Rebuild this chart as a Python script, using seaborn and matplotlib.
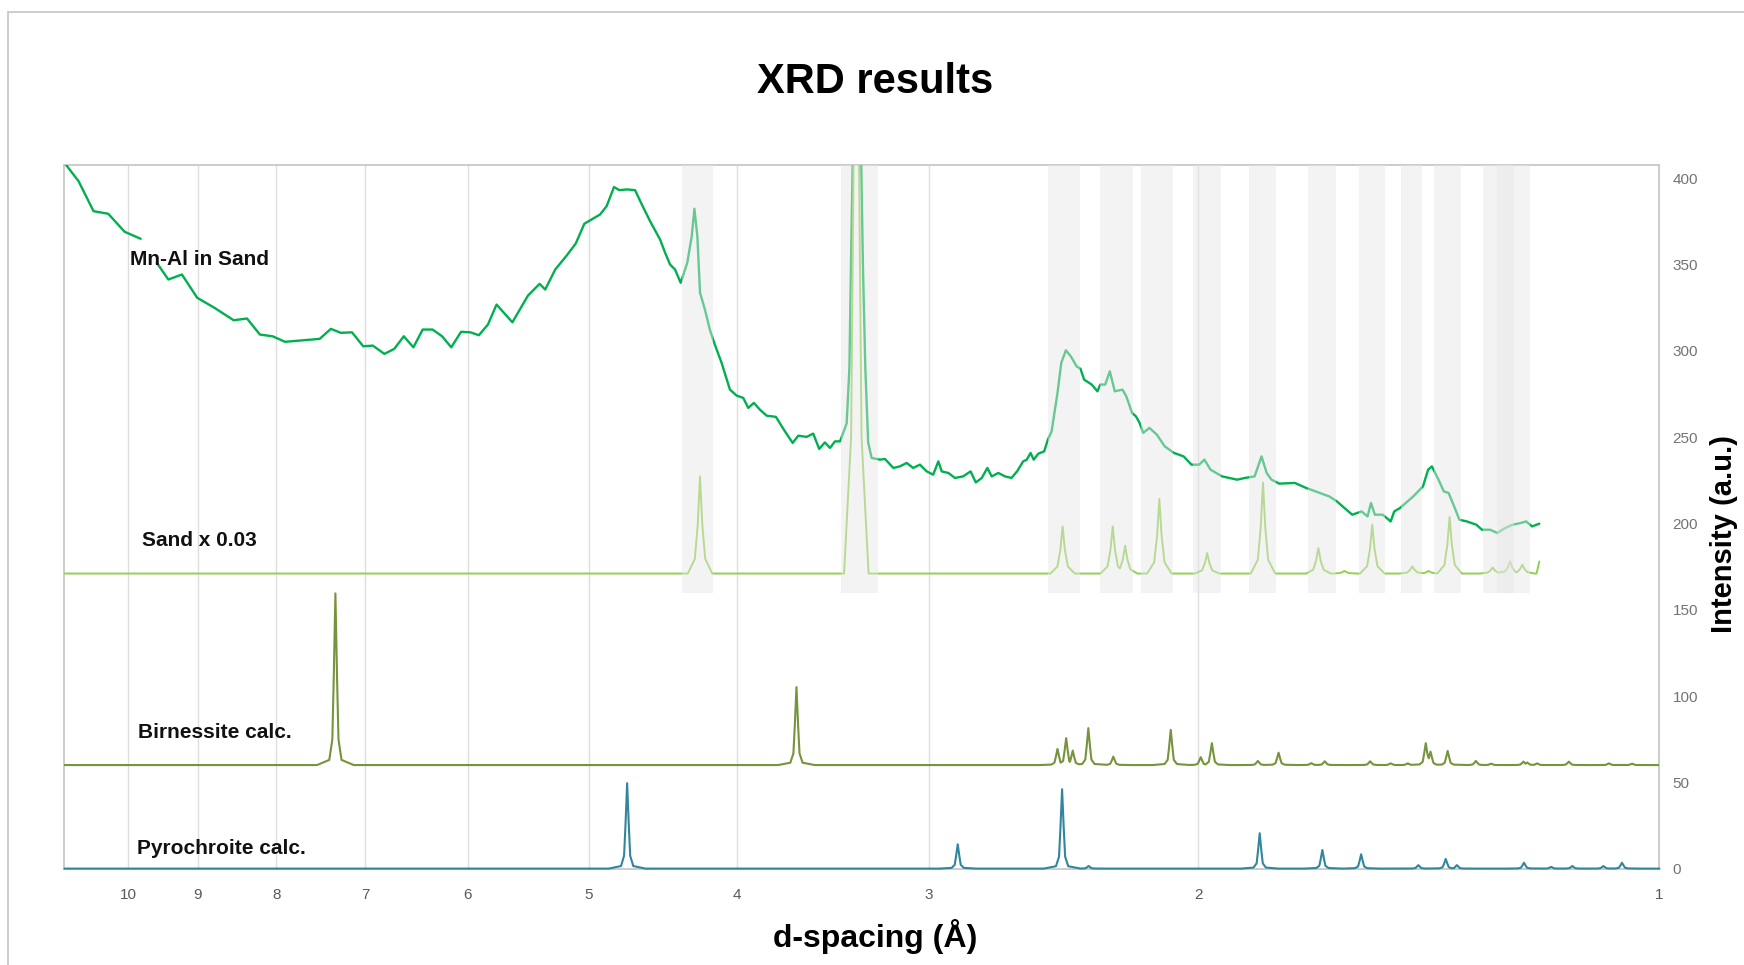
import numpy as np
import pandas as pd
import matplotlib
matplotlib.use("Agg")
import matplotlib.pyplot as plt
from matplotlib.patches import Rectangle
from matplotlib.ticker import FixedLocator, FixedFormatter, NullLocator
import seaborn as sns

# ---------------- measured pattern: Mn-Al in sand ----------------
# (d-spacing in Å, intensity in a.u.); the trace is broken in two pieces
MNAL_SEG1_D = [11.0, 10.77, 10.53, 10.30, 10.05, 9.81]
MNAL_SEG1_I = [409.0, 398.4, 381.0, 379.5, 369.1, 365.0]

MNAL_SEG2_D = [
    9.575, 9.41, 9.22, 9.01, 8.78, 8.53, 8.36, 8.20, 8.045, 7.895, 7.495, 7.37,
    7.26, 7.14, 7.02, 6.92, 6.80, 6.70, 6.605, 6.51, 6.42, 6.325, 6.235, 6.15,
    6.06, 5.975, 5.90, 5.82, 5.745, 5.61, 5.48, 5.385, 5.34, 5.26, 5.17, 5.10,
    5.035, 4.917, 4.869, 4.815, 4.777, 4.724, 4.665, 4.618, 4.561, 4.493, 4.459,
    4.426, 4.393, 4.356, 4.313, 4.284, 4.267, 4.248, 4.231, 4.200, 4.169, 4.138,
    4.096, 4.045, 4.004, 3.965, 3.935, 3.902, 3.867, 3.828, 3.775, 3.724, 3.681,
    3.650, 3.604, 3.569, 3.537, 3.507, 3.480, 3.454, 3.428, 3.394, 3.380, 3.372,
    3.362, 3.342, 3.322, 3.312, 3.300, 3.286, 3.269, 3.228, 3.204, 3.164, 3.133,
    3.101, 3.071, 3.040, 3.009, 2.980, 2.957, 2.942, 2.913, 2.884, 2.849, 2.817,
    2.795, 2.770, 2.747, 2.729, 2.702, 2.675, 2.649, 2.627, 2.603, 2.589, 2.574,
    2.562, 2.544, 2.522, 2.508, 2.494, 2.472, 2.458, 2.441, 2.423, 2.402, 2.388,
    2.375, 2.348, 2.328, 2.318, 2.301, 2.285, 2.268, 2.242, 2.229, 2.210, 2.197,
    2.185, 2.173, 2.153, 2.129, 2.104, 2.075, 2.045, 2.021, 1.998, 1.982, 1.964,
    1.930, 1.887, 1.865, 1.838, 1.819, 1.805, 1.792, 1.771, 1.730, 1.701, 1.677,
    1.643, 1.624, 1.606, 1.587, 1.565, 1.551, 1.543, 1.534, 1.516, 1.498, 1.490,
    1.477, 1.448, 1.427, 1.416, 1.408, 1.394, 1.383, 1.373, 1.359, 1.351, 1.336,
    1.317, 1.306, 1.290, 1.276, 1.261, 1.247, 1.232, 1.222, 1.211, 1.198,
]
MNAL_SEG2_I = [
    351.1, 341.4, 344.3, 330.8, 325.0, 317.8, 318.8, 309.5, 308.5, 305.3, 307.0, 312.8,
    310.5, 310.8, 302.7, 303.1, 298.3, 301.2, 308.5, 302.1, 312.4, 312.4, 308.5, 302.1,
    311.1, 310.8, 309.1, 315.3, 326.9, 316.6, 332.1, 338.9, 335.6, 347.2, 355.3, 362.3,
    373.7, 379.1, 383.9, 395.0, 393.2, 393.6, 393.2, 384.9, 375.2, 364.6, 356.9,
    350.1, 347.2, 339.5, 351.1, 366.5, 382.4, 366.5, 333.7, 324.0, 312.4, 303.7,
    293.1, 277.6, 274.1, 272.8, 267.0, 269.9, 266.0, 262.5, 261.8, 253.4, 246.7,
    250.9, 250.2, 252.1, 243.2, 247.0, 243.8, 247.6, 247.6, 258.0, 290.0, 350.0,
    420.0, 600.0, 420.0, 350.0, 290.0, 247.0, 238.0, 237.0, 237.4, 232.2, 233.1,
    235.1, 232.2, 234.1, 230.2, 228.3, 236.0, 230.2, 229.3, 226.4, 227.3, 230.2,
    223.8, 226.4, 232.2, 227.3, 229.3, 227.3, 226.4, 230.2, 236.0, 237.0, 240.9,
    237.0, 240.5, 241.8, 248.6, 253.4, 275.7, 293.1, 300.4, 296.9, 291.1, 289.6,
    283.4, 280.5, 276.6, 280.5, 280.5, 288.2, 276.6, 277.6, 273.7, 264.1, 262.1,
    258.3, 252.5, 255.4, 251.5, 244.7, 240.9, 238.9, 234.1, 234.1, 237.0, 231.2,
    227.3, 225.4, 226.4, 227.3, 238.9, 229.3, 225.4, 223.1, 223.5, 220.6, 218.6,
    215.7, 212.8, 209.0, 205.1, 207.0, 204.1, 211.9, 205.1, 205.1, 201.2, 207.0,
    209.0, 215.7, 221.5, 231.2, 233.1, 225.4, 218.6, 217.7, 208.0, 202.2, 201.2,
    199.3, 196.4, 196.4, 194.5, 197.4, 199.3, 200.3, 201.2, 198.3, 199.9,
]

# ---------------- sand reference (scaled x 0.03) ----------------
SAND_BASE = 171.0
SAND_PEAK_D = [4.231, 3.345, 2.453, 2.275, 2.233, 2.121, 1.974, 1.815, 1.670,
               1.606, 1.540, 1.450, 1.415, 1.371, 1.285, 1.252, 1.229]
SAND_PEAK_I = [227.3, 700.0, 198.3, 198.3, 187.1, 214.2, 182.9, 223.8, 185.8,
               172.5, 199.3, 175.1, 172.5, 203.8, 174.5, 178.0, 176.1]
SAND_END_D = [1.203, 1.198]
SAND_END_I = [171.0, 178.0]

# ---------------- calculated patterns ----------------
BIRN_BASE = 60.0
BIRN_PEAK_D = [7.32, 3.660, 2.472, 2.440, 2.416, 2.360, 2.273, 2.085, 1.993, 1.960,
               1.829, 1.773, 1.688, 1.654, 1.545, 1.498, 1.460, 1.421, 1.411, 1.375,
               1.318, 1.288, 1.227, 1.220, 1.202, 1.146, 1.079, 1.042]
BIRN_PEAK_I = [159.5, 105.2, 69.4, 75.6, 68.4, 81.4, 64.9, 80.4, 64.6, 72.7,
               62.4, 67.2, 61.1, 62.2, 62.2, 61.0, 61.0, 72.7, 67.8, 68.2,
               62.4, 60.8, 62.0, 61.5, 61.0, 62.0, 61.0, 60.8]

PYRO_BASE = 0.0
PYRO_PEAK_D = [4.721, 2.872, 2.455, 2.359, 1.824, 1.660, 1.566, 1.437, 1.379,
               1.356, 1.226, 1.177, 1.140, 1.088, 1.058]
PYRO_PEAK_I = [49.5, 14.1, 46.0, 1.5, 20.5, 10.8, 8.3, 2.0, 5.6,
               2.0, 3.4, 1.0, 1.5, 1.5, 3.4]

# ---------------- highlighted reflections ----------------
BAND_HI_D = [4.348, 3.424, 2.506, 2.318, 2.181, 2.016, 1.854, 1.696, 1.571,
             1.476, 1.404, 1.304, 1.276]
BAND_LO_D = [4.147, 3.236, 2.388, 2.206, 2.078, 1.934, 1.781, 1.626, 1.510,
             1.429, 1.348, 1.245, 1.215]
BAND_FLOOR = 160.0

X_TICKS = [10, 9, 8, 7, 6, 5, 4, 3, 2, 1]
Y_TICKS = [0, 50, 100, 150, 200, 250, 300, 350, 400]
D_RANGE = (11.0, 1.0)
Y_MAX = 408.0

# peak line shapes (offsets in decades of d, fraction of peak height)
CALC_SHAPE = ([-0.012, -0.004, -0.002, -0.0011, 0.0, 0.0011, 0.002, 0.004, 0.012],
              [0.0, 0.03, 0.15, 0.5, 1.0, 0.5, 0.15, 0.03, 0.0])
SAND_SHAPE = ([-0.008, -0.0034, -0.0015, 0.0, 0.0015, 0.0034, 0.008],
              [0.0, 0.15, 0.5, 1.0, 0.5, 0.15, 0.0])


def peak_trace(d_start, d_end, base, peak_d, peak_i, shape):
    """Baseline with one profile per listed reflection, ordered by falling d."""
    offs, fracs = np.asarray(shape[0]), np.asarray(shape[1])
    logs = [np.log10(d_start), np.log10(d_end)]
    for d in peak_d:
        logs.extend(np.log10(d) + offs)
    grid = np.unique(logs)[::-1]
    grid = grid[(grid <= np.log10(d_start)) & (grid >= np.log10(d_end))]
    level = np.zeros_like(grid)
    for d, h in zip(peak_d, peak_i):
        prof = np.interp(grid - np.log10(d), offs, fracs, left=0.0, right=0.0)
        level = np.maximum(level, (h - base) * prof)
    return 10 ** grid, base + level


sns.set_theme(style="white")
plt.rcParams["font.family"] = ["Liberation Sans", "DejaVu Sans"]

fig = plt.figure(figsize=(17.44, 9.65), dpi=100)
fig.patch.set_facecolor("white")
ax = fig.add_axes([0.03698, 0.0999, 0.91456, 0.72953])
ax.set_facecolor("white")

# measured pattern
mnal = pd.DataFrame({
    "d": MNAL_SEG1_D + MNAL_SEG2_D,
    "I": MNAL_SEG1_I + MNAL_SEG2_I,
    "seg": [0] * len(MNAL_SEG1_D) + [1] * len(MNAL_SEG2_D),
})
sns.lineplot(data=mnal, x="d", y="I", units="seg", estimator=None, sort=False,
             color="#00B050", lw=1.7, ax=ax, zorder=3)

# sand reference
sd, si = peak_trace(D_RANGE[0], SAND_END_D[0], SAND_BASE, SAND_PEAK_D, SAND_PEAK_I, SAND_SHAPE)
sand = pd.DataFrame({"d": np.r_[sd, SAND_END_D[1:]], "I": np.r_[si, SAND_END_I[1:]]})
sns.lineplot(data=sand, x="d", y="I", estimator=None, sort=False,
             color="#92D050", lw=1.4, ax=ax, zorder=3)

# birnessite
bd, bi = peak_trace(D_RANGE[0], D_RANGE[1], BIRN_BASE, BIRN_PEAK_D, BIRN_PEAK_I, CALC_SHAPE)
sns.lineplot(x=bd, y=bi, estimator=None, sort=False, color="#77933C", lw=1.5, ax=ax, zorder=3)

# pyrochroite
pd_, pi_ = peak_trace(D_RANGE[0], D_RANGE[1], PYRO_BASE, PYRO_PEAK_D, PYRO_PEAK_I, CALC_SHAPE)
pl = sns.lineplot(x=pd_, y=pi_, estimator=None, sort=False, color="#31859C", lw=1.5, ax=ax, zorder=3)
pl.lines[-1].set_clip_on(False)

# translucent bands over the shared reflections
for hi, lo in zip(BAND_HI_D, BAND_LO_D):
    ax.axvspan(hi, lo, ymin=BAND_FLOOR / Y_MAX, ymax=1.0, facecolor="#e6e6e6",
               alpha=0.45, lw=0, zorder=4)

# axes
ax.set_xscale("log")
ax.set_xlim(*D_RANGE)
ax.set_ylim(0, Y_MAX)
ax.xaxis.set_major_locator(FixedLocator(X_TICKS))
ax.xaxis.set_major_formatter(FixedFormatter([str(t) for t in X_TICKS]))
ax.xaxis.set_minor_locator(NullLocator())
ax.yaxis.tick_right()
ax.set_yticks(Y_TICKS)
ax.tick_params(axis="x", length=0, pad=14, labelsize=11, labelcolor="#595959")
ax.tick_params(axis="y", length=0, pad=9.5, labelsize=11, labelcolor="#737373")
ax.set_xlabel("")
ax.set_ylabel("")
ax.grid(True, axis="x", color="#dedede", lw=1.0)
ax.grid(False, axis="y")
ax.set_axisbelow(True)
for sp in ax.spines.values():
    sp.set_color("#c4c4c4")
    sp.set_linewidth(1.2)

# series labels
lab = dict(ha="left", va="baseline", fontsize=15, fontweight="bold", color="#111111", zorder=6)
ax.text(9.97, 350.1, "Mn-Al in Sand", **lab)
ax.text(9.79, 187.1, "Sand x 0.03", **lab)
ax.text(9.845, 75.6, "Birnessite calc.", **lab)
ax.text(9.865, 8.5, "Pyrochroite calc.", **lab)

# titles
fig.text(0.5017, 0.9039, "XRD results", ha="center", va="baseline",
         fontsize=30, fontweight="bold", color="#000000")
fig.text(0.5021, 0.0185, "d-spacing (Å)", ha="center", va="baseline",
         fontsize=23, fontweight="bold", color="#000000")
fig.text(0.9885, 0.447, "Intensity (a.u.)", rotation=90, ha="center", va="center",
         fontsize=21, fontweight="bold", color="#000000")

# outer frame
fig.add_artist(Rectangle((7.5 / 1744, -0.05), 1.2, 1.0379, transform=fig.transFigure,
                         fill=False, edgecolor="#c4c4c4", lw=1.2))

fig.savefig("out.png", dpi=100, facecolor="white")
